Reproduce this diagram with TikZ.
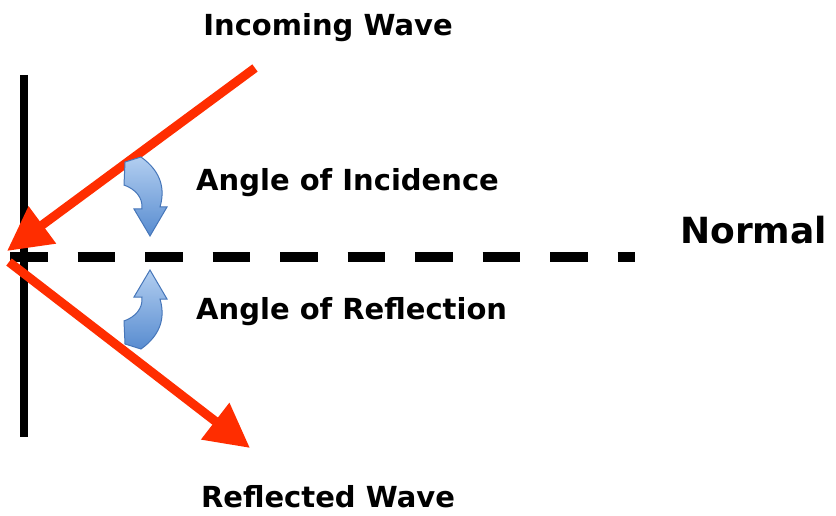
\documentclass[tikz,border=0pt]{standalone}
\usepackage{fontspec}
\setmainfont{DejaVu Sans}
\usepackage{tikz}
\usetikzlibrary{arrows.meta}

\definecolor{waveRed}{RGB}{255,45,0}
\definecolor{turnTop}{RGB}{178,206,240}
\definecolor{turnBot}{RGB}{88,140,208}
\definecolor{turnEdge}{RGB}{70,118,185}

\begin{document}
\begin{tikzpicture}[x=1pt, y=-1pt, line cap=butt, line join=miter,
    wave/.style={waveRed, line width=9pt, -{Triangle[length=44pt,width=44pt]}},
    label/.style={font=\fontsize{29}{34}\selectfont\bfseries, inner sep=0pt},
    turn/.style={top color=turnTop, bottom color=turnBot, draw=turnEdge, line width=1pt}]

  \useasboundingbox (0,0) rectangle (836,516);

  % --- mirror and normal ---
  \draw[line width=8pt] (24,75) -- (24,437);
  \draw[line width=10pt, dash pattern=on 37.5pt off 30pt] (10,257) -- (635,257);

  % --- rays ---
  \coordinate (inStart) at (255,68);
  \coordinate (inHit)   at (7,251);
  \coordinate (outHit)  at (9,262);
  \coordinate (outEnd)  at (250,448);
  \draw[wave] (inStart) -- (inHit);
  \draw[wave] (outHit) -- (outEnd);

  % --- angle markers ---
  \path[turn] (125,162) -- (141,157) .. controls (162,172) and (165,190) .. (160,207)
        -- (167,207) -- (150,236) -- (134,209) -- (142,209)
        .. controls (143,197) and (135,189) .. (124,185) -- cycle;
  \path[turn] (125,344) -- (141,349) .. controls (162,334) and (165,316) .. (160,299)
        -- (167,299) -- (150,270) -- (134,297) -- (142,297)
        .. controls (143,309) and (135,317) .. (124,321) -- cycle;

  % --- labels ---
  \node[label] (incoming)   at (328,28)  {Incoming Wave};
  \node[label, anchor=west] (incidence)  at (196,183) {Angle of Incidence};
  \node[label, anchor=west] (reflection) at (196,312) {Angle of Reflection};
  \node[label] (reflected)  at (328,497) {Reflected Wave};
  \node[label, anchor=west, font=\fontsize{36}{42}\selectfont\bfseries] (normal) at (680,230) {Normal};
\end{tikzpicture}
\end{document}
